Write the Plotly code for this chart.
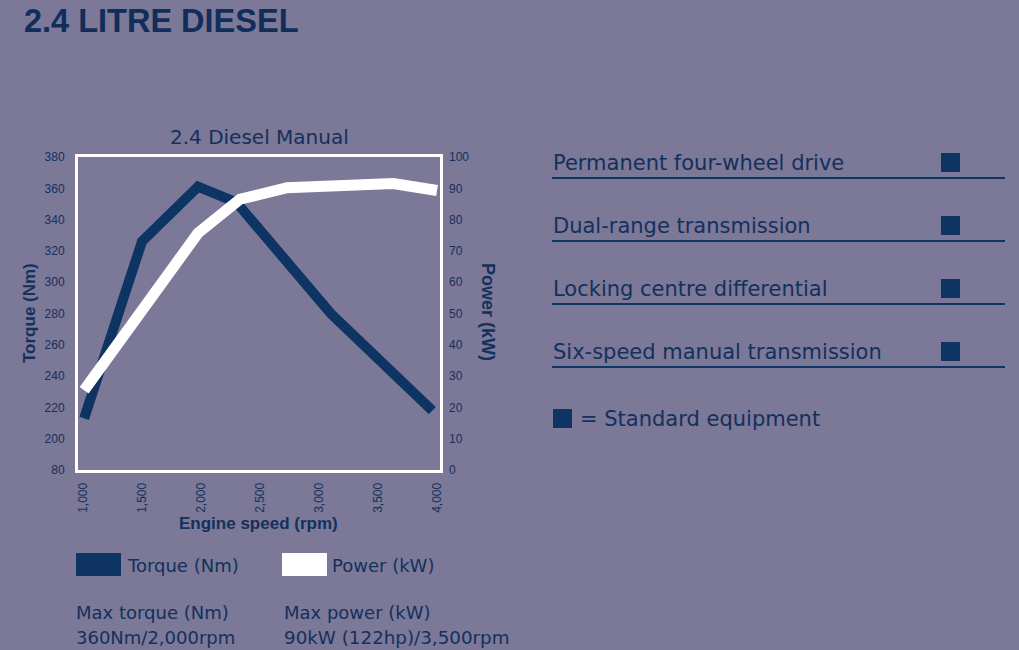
import plotly.graph_objects as go

# ---------------- data ----------------
rpm_torque = [1010, 1500, 1975, 2300, 3100, 3500, 3960]
torque_nm = [213, 326, 361, 351, 280, 251, 218]

rpm_power = [1010, 1975, 2330, 2730, 3630, 4000]
power_kw = [25.5, 75.7, 86.5, 90.2, 91.5, 89.3]

x_ticks = [1000, 1500, 2000, 2500, 3000, 3500, 4000]
x_tick_labels = ["1,000", "1,500", "2,000", "2,500", "3,000", "3,500", "4,000"]
torque_tick_vals = [180, 200, 220, 240, 260, 280, 300, 320, 340, 360, 380]
torque_tick_labels = ["80", "200", "220", "240", "260", "280", "300", "320", "340", "360", "380"]
power_ticks = [0, 10, 20, 30, 40, 50, 60, 70, 80, 90, 100]

features = ["Permanent four-wheel drive", "Dual-range transmission",
            "Locking centre differential", "Six-speed manual transmission"]

# ---------------- style ----------------
W, H = 1019, 650
BG = "#7b7898"
NAVY = "#0e3463"
TXT = "#14305c"
BODY_FONT = "DejaVu Sans"
AX_FONT = "Liberation Sans"


def px(x):
    return x / W


def py(y):
    return 1 - y / H


fig = go.Figure()
fig.add_trace(go.Scatter(x=rpm_torque, y=torque_nm, mode="lines",
                         line=dict(color=NAVY, width=10), yaxis="y",
                         showlegend=False, hoverinfo="skip"))
fig.add_trace(go.Scatter(x=rpm_power, y=power_kw, mode="lines",
                         line=dict(color="white", width=11), yaxis="y2",
                         showlegend=False, hoverinfo="skip"))

tickfont = dict(family=AX_FONT, size=12, color=TXT)

fig.update_layout(
    width=W, height=H,
    paper_bgcolor=BG, plot_bgcolor=BG,
    margin=dict(l=0, r=0, t=0, b=0, pad=0),
    showlegend=False,
    xaxis=dict(domain=[px(78), px(440)], range=[958, 4025],
               tickvals=x_ticks, ticktext=x_tick_labels, tickangle=-90,
               tickfont=tickfont, showgrid=False, zeroline=False,
               showline=True, linecolor="white", linewidth=3, mirror=True,
               ticks="", ticklabelstandoff=5, automargin=False, fixedrange=True),
    yaxis=dict(domain=[py(470), py(157)], range=[180, 380],
               tickvals=torque_tick_vals, ticktext=torque_tick_labels,
               tickfont=tickfont, showgrid=False, zeroline=False,
               showline=True, linecolor="white", linewidth=3, mirror=True,
               ticks="", ticklabelstandoff=8, automargin=False, fixedrange=True),
    yaxis2=dict(overlaying="y", side="right", range=[0, 100],
                tickvals=power_ticks, tickfont=tickfont,
                showgrid=False, zeroline=False, showline=False,
                ticks="", ticklabelstandoff=8, automargin=False, fixedrange=True),
)

ann = []


def text(x, y, s, size, family=BODY_FONT, anchor="left", angle=0, bold=False, color=TXT):
    ann.append(dict(x=px(x), y=py(y), xref="paper", yref="paper",
                    text=f"<b>{s}</b>" if bold else s, showarrow=False,
                    xanchor=anchor, yanchor="middle", textangle=angle,
                    font=dict(family=family, size=size, color=color)))


# page title
text(22, 21, "2.4 LITRE DIESEL", 32.5, family=AX_FONT, bold=True, color="#112d5a")
# chart title
text(259, 137, "2.4 Diesel Manual", 20, family=BODY_FONT, anchor="center")
# axis titles
text(30, 313, "Torque (Nm)", 17, family=AX_FONT, anchor="center", angle=-90, bold=True)
text(488, 312, "Power (kW)", 18, family=AX_FONT, anchor="center", angle=90, bold=True)
text(258, 523, "Engine speed (rpm)", 17, family=AX_FONT, anchor="center", bold=True)

# legend
text(125, 565, "Torque (Nm)", 18)
text(330, 565, "Power (kW)", 18)
text(74, 612, "Max torque (Nm)", 18)
text(74, 637, "360Nm/2,000rpm", 18)
text(282, 612, "Max power (kW)", 18)
text(282, 637, "90kW (122hp)/3,500rpm", 18.3)

shapes = []


def rect(x0, y0, x1, y1, color):
    shapes.append(dict(type="rect", xref="paper", yref="paper",
                       x0=px(x0), x1=px(x1), y0=py(y1), y1=py(y0),
                       fillcolor=color, line=dict(width=0)))


rect(76, 553, 121, 576, NAVY)
rect(282, 553, 327, 576, "white")

# feature list
for i, f in enumerate(features):
    yc = 163 + i * 63
    text(551, yc, f, 21)
    rect(941, yc - 10, 960, yc + 9, NAVY)
    shapes.append(dict(type="line", xref="paper", yref="paper",
                       x0=px(552), x1=px(1005), y0=py(yc + 15), y1=py(yc + 15),
                       line=dict(color=NAVY, width=2)))

rect(553, 409, 572, 428, NAVY)
text(578, 419, "= Standard equipment", 21)

fig.update_layout(annotations=ann, shapes=shapes)
fig.write_html("out.html", config={"displayModeBar": False},
               post_script="document.body.style.margin='0';document.body.style.overflow='hidden';")
